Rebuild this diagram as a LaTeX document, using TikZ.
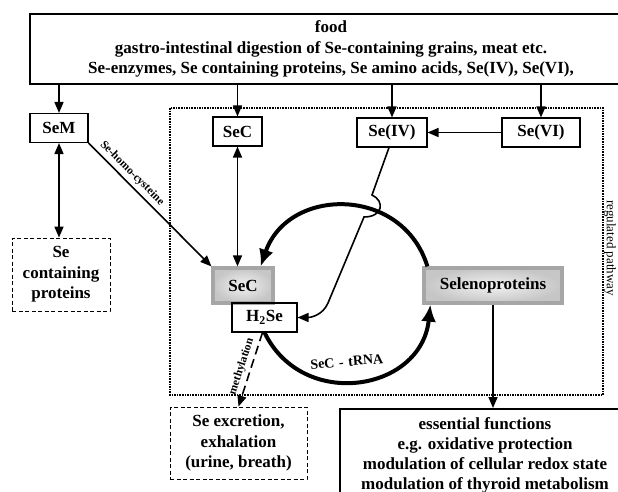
\documentclass[tikz,border=0pt]{standalone}
\usepackage{fontspec}
\setmainfont{Liberation Serif}
\usetikzlibrary{arrows.meta, calc}

\begin{document}
\begin{tikzpicture}[x=1pt, y=1pt,
        box/.style={draw, line width=1.1pt, inner sep=0pt, align=center,
            font=\fontsize{17}{20.5}\selectfont\bfseries},
        dashbox/.style={box, line width=0.9pt, dash pattern=on 4pt off 2.5pt},
        graybox/.style={box, draw=gray!70, line width=3.2pt, inner color=gray!10, outer color=gray!45},
        arr/.style={line width=1.6pt, -{Triangle[length=11pt,width=9pt]}},
        dblarr/.style={line width=1.6pt, {Triangle[length=11pt,width=9pt]}-{Triangle[length=11pt,width=9pt]}},
        cyc/.style={line width=4pt, -{Latex[length=17pt,width=15pt]}},
        lbl/.style={font=\fontsize{11.5}{13}\selectfont\bfseries}]
        % Frame
        \clip (0,0) rectangle (618,-492);

        % Food
        \node[box, minimum width=602, minimum height=70] (food) at (331,-49)
            {food\\gastro-intestinal digestion of Se-containing grains, meat etc.\\Se-enzymes, Se containing proteins, Se amino acids, Se(IV), Se(VI),};

        % Regulated pathway
        \draw[densely dotted, line width=1.6pt] (170,-108) rectangle (603,-395);
        \node[rotate=-90, font=\fontsize{13}{15}\selectfont] (reg) at (610,-248) {regulated pathway};

        % Entry forms
        \node[box, minimum width=58, minimum height=29] (sem) at (59,-128) {SeM};
        \node[box, minimum width=49, minimum height=29] (secin) at (237.5,-131.5) {SeC};
        \node[box, minimum width=70, minimum height=29] (se4) at (392,-132.5) {Se(IV)};
        \node[box, minimum width=78, minimum height=29] (se6) at (541,-132.5) {Se(VI)};

        % Cycle
        \node[graybox, minimum width=60, minimum height=35] (sec) at (243,-285.5) {SeC};
        \node[box, minimum width=65, minimum height=29] (h2se) at (264.5,-317.5) {H\textsubscript{2}Se};
        \node[graybox, minimum width=138, minimum height=35] (selp) at (493,-285.5) {Selenoproteins};

        % Outcomes
        \node[dashbox, minimum width=98, minimum height=73] (seprot) at (61,-274.5) {Se\\containing\\proteins};
        \node[dashbox, minimum width=137, minimum height=72] (excr) at (238.5,-443) {Se excretion,\\exhalation\\(urine, breath)};
        \node[box, line width=2pt, minimum width=290, minimum height=92, font=\fontsize{17}{20}\selectfont\bfseries] (essf) at (485,-455)
            {essential functions\\e.g. oxidative protection\\modulation of cellular redox state\\modulation of thyroid metabolism};

        % Arrows from food
        \draw[arr] (food.south -| sem.north) -- (sem.north);
        \draw[arr] (food.south -| secin.north) -- (secin.north);
        \draw[arr] (food.south -| se4.north) -- (se4.north);
        \draw[arr] (food.south -| se6.north) -- (se6.north);

        % Conversions
        \draw[arr] (se6.west) -- (se4.east);
        \draw[dblarr] (sem.south) -- (sem.south |- seprot.north);
        \draw[dblarr] (secin.south) -- (secin.south |- sec.north);
        \draw[arr] (sem.south east) -- node[lbl, sloped, above, pos=0.3] {Se-homo-cysteine} (sec.north west);
        \draw[arr] ([xshift=-3pt]se4.south) -- (372,-195) .. controls (385,-201) and (383,-217) .. (364,-217)
            -- (328,-303) to[out=247, in=0] (h2se.east);

        % Selenium cycle
        \draw[cyc] ([xshift=5pt]selp.north west) to[out=107, in=71, looseness=1.3] ([xshift=-14pt]sec.north east);
        \draw[cyc] (h2se.south) to[out=-64, in=-96, looseness=1.33]
            node[pos=0.45, above=10pt, rotate=5, font=\fontsize{14}{15}\selectfont\bfseries] {SeC\,\,-\,\,tRNA} ([xshift=8pt]selp.south west);

        % Excretion and functions
        \draw[arr, dash pattern=on 9pt off 5pt] ([xshift=-2pt]h2se.south) -- node[lbl, sloped, above] {methylation} (excr.north);
        \draw[arr] (selp.south) -- (selp.south |- essf.north);
    \end{tikzpicture}
\end{document}
